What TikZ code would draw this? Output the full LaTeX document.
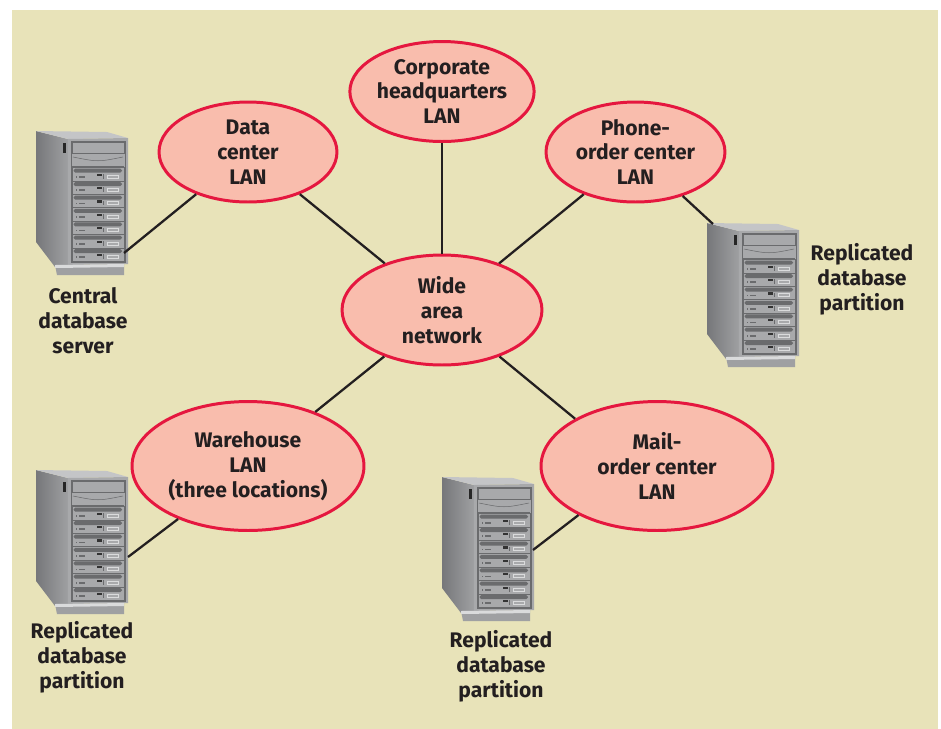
\documentclass[tikz,border=0pt]{standalone}
\usepackage{fontspec}
\setmainfont{Fira Sans}
\usepackage{tikz}
\usetikzlibrary{shapes.geometric}

\definecolor{paper}{HTML}{E8E3B9}
\definecolor{lanfill}{HTML}{F9BDAD}
\definecolor{lanline}{HTML}{E5173F}
\definecolor{ink}{HTML}{231F20}
\definecolor{srvfront}{HTML}{A8A9AB}
\definecolor{srvtop}{HTML}{C4C5C7}
\definecolor{srvdark}{HTML}{76777A}
\definecolor{srvmid}{HTML}{9FA0A2}
\definecolor{srvslot}{HTML}{6A6B6D}
\definecolor{srvlight}{HTML}{DADBDC}
\newcommand{\lanfont}{\fontsize{12}{14.2}\selectfont\bfseries}

% tower server, origin at its upper left corner
\tikzset{
  server/.pic={
    \shade[left color=srvdark,right color=srvmid] (0,0) -- (32,8) -- (32,134) -- (19,136) -- (0,111) -- cycle;
    \fill[srvtop] (0,0) -- (71,1) -- (92,7) -- (32,8) -- cycle;
    \fill[srvfront] (32,8) -- (92,7) -- (92,133) -- (32,134) -- cycle;
    \fill[srvmid] (19,134) -- (88,133) -- (88,144) -- (21,144) -- cycle;
    \fill[srvlight] (19,134) -- (88,133) -- (88,136) -- (19,137) -- cycle;
    \fill[black!85] (27.3,11.5) rectangle (29.5,21.5);
    \draw[srvslot,line width=0.4pt] (35,10) rectangle (89,131);
    \draw[srvslot,line width=0.4pt] (36,11) rectangle (88,22);
    \draw[srvslot,line width=0.3pt] (37,26) .. controls (62,31) .. (87,26);
    \draw[srvslot,line width=0.3pt] (36,35) -- (88,35);
    \foreach \k in {0,...,6}{
      \pgfmathsetmacro\yy{36.5+13.4*\k}
      \draw[srvslot,line width=0.3pt] (36,\yy) rectangle (88,\yy+13.4);
      \fill[srvslot,rounded corners=1pt] (37.5,\yy+1.2) rectangle (86,\yy+5.2);
      \fill[srvslot] (39.5,\yy+8.5) rectangle (41,\yy+10);
      \fill[srvslot] (43,\yy+8.5) rectangle (48.5,\yy+10);
      \fill[black!80] (61,\yy+6) rectangle (65.5,\yy+8.2);
      \draw[srvslot,line width=0.3pt] (67.5,\yy+6.5) -- (67.5,\yy+11);
      \draw[srvlight,line width=0.4pt] (71,\yy+7.5) rectangle (82,\yy+10.5);
    }
  }
}

\begin{document}
\begin{tikzpicture}[x=0.02cm,y=-0.02cm,
    lan/.style={ellipse,draw=lanline,line width=1.7pt,fill=lanfill,inner sep=0pt,
                align=center,font=\lanfont,text=ink},
    caption/.style={align=center,font=\lanfont,text=ink,inner sep=0pt},
    link/.style={draw=ink,line width=1.3pt}
]
\useasboundingbox (0,0) rectangle (941,728);
\fill[paper] (12,10) rectangle (938,740);

\pic at (36,131) {server};
\pic at (707,223) {server};
\pic at (36,470) {server};
\pic at (442,477) {server};

\coordinate (central) at (124,253);
\coordinate (replA) at (713,224);
\coordinate (replB) at (128,557);
\coordinate (replC) at (533,550);

\node[lan,minimum width=3.56cm,minimum height=2cm] (dc) at (248,152) {Data\\center\\LAN};
\node[lan,minimum width=3.6cm,minimum height=2cm] (hq) at (442,91.5) {Corporate\\headquarters\\LAN};
\node[lan,minimum width=3.58cm,minimum height=2cm] (phone) at (635.5,152) {Phone-\\order center\\LAN};
\node[lan,minimum width=4cm,minimum height=2.2cm] (wan) at (442,310) {Wide\\area\\network};
\node[lan,minimum width=4.64cm,minimum height=2.58cm] (wh) at (248,466) {Warehouse\\LAN\\(three locations)};
\node[lan,minimum width=4.64cm,minimum height=2.58cm] (mail) at (657,466) {Mail-\\order center\\LAN};

\draw[link] (dc) -- (wan);
\draw[link] (hq) -- (wan);
\draw[link] (phone) -- (wan);
\draw[link] (wh) -- (wan);
\draw[link] (wan.-39.5) -- (mail.150);
\draw[link] (central) -- (dc);
\draw[link] (replA) -- (phone.-43);
\draw[link] (replB) -- (wh);
\draw[link] (replC) -- (mail.-148);

\node[caption] (captA) at (83,321) {Central\\database\\server};
\node[caption] (captB) at (862,279) {Replicated\\database\\partition};
\node[caption] (captC) at (82,657) {Replicated\\database\\partition};
\node[caption] (captD) at (501,666) {Replicated\\database\\partition};
\end{tikzpicture}
\end{document}
